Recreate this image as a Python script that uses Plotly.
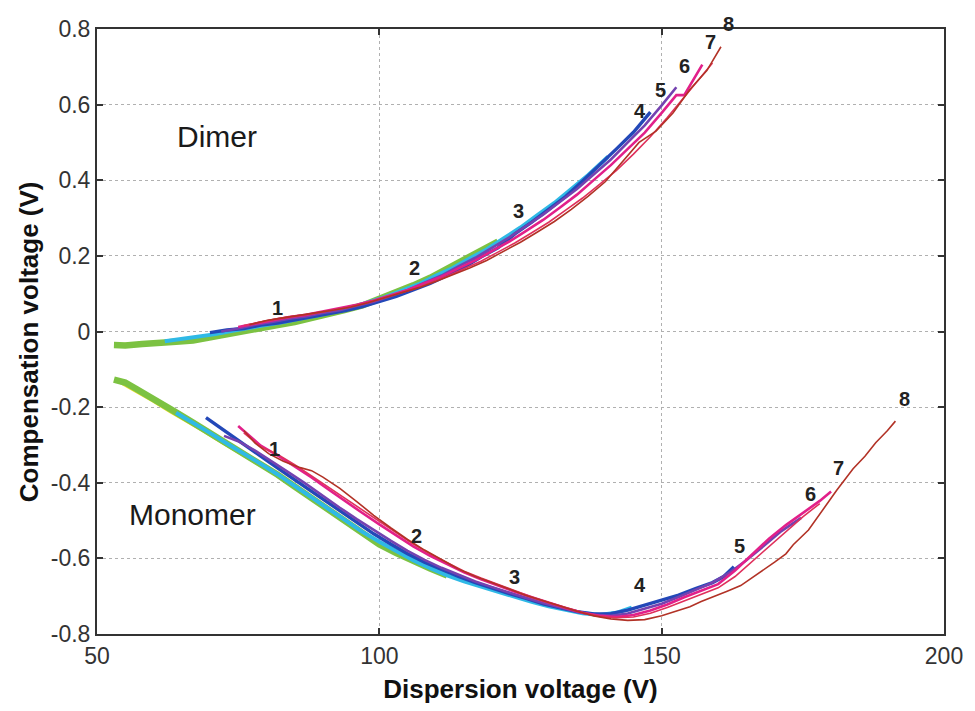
import plotly.graph_objects as go

# ---------------- data ----------------
series_names = ["1", "2", "3", "4", "5", "6", "7", "8"]
series_colors = ["#e8dc2a", "#7cc242", "#2fb9e6", "#2348b8", "#7442b0", "#e2208a", "#e0305c", "#b23226"]
series_widths = [4, 6.5, 4, 3.4, 2.6, 2.6, 1.6, 1.6]

# Dimer branch (x = dispersion voltage, y = compensation voltage)
dimer_x = [
    [54, 57, 60, 63, 66, 69, 72, 75, 78, 80],
    [53, 55, 58, 61, 64, 67, 70, 73, 76, 79, 82, 85, 88, 91, 94, 97, 100, 103, 106, 109, 112, 115, 118, 121],
    [62, 65, 68, 71, 74, 77, 80, 83, 86, 89, 92, 95, 98, 101, 104, 107, 110, 113, 116, 119, 122, 125, 128, 131, 134, 137, 140.5],
    [70, 73, 76, 79, 82, 85, 88, 91, 94, 97, 100, 103, 106, 109, 112, 115, 118, 121, 124, 127, 130, 133, 136, 139, 142, 145, 148],
    [72, 75, 78, 81, 84, 87, 90, 93, 96, 99, 102, 105, 108, 111, 114, 117, 120, 123, 126, 129, 132, 135, 138, 141, 144, 147, 150, 152.6],
    [75, 78, 81, 84, 87, 90, 93, 96, 99, 102, 105, 108, 111, 114, 117, 120, 123, 126, 129, 132, 135, 138, 141, 144, 147, 150, 152.6, 154, 157.2],
    [76, 79, 82, 85, 88, 91, 94, 97, 100, 103, 106, 109, 112, 115, 118, 121, 124, 127, 130, 133, 136, 139, 142, 145, 148, 151, 154, 157, 159],
    [77, 80, 83, 86, 89, 92, 95, 98, 101, 104, 107, 110, 113, 116, 119, 122, 125, 128, 131, 134, 137, 140, 143, 146, 149, 152, 155, 158, 160.5],
]
dimer_y = [
    [-0.036, -0.034, -0.031, -0.029, -0.024, -0.017, -0.009, -0.001, 0.007, 0.012],
    [-0.036, -0.037, -0.033, -0.032, -0.027, -0.024, -0.015, -0.008, 0.001, 0.008, 0.017, 0.025, 0.035, 0.044, 0.057, 0.069, 0.086, 0.102, 0.122, 0.142, 0.165, 0.188, 0.213, 0.238],
    [-0.026, -0.020, -0.014, -0.007, 0.002, 0.009, 0.018, 0.025, 0.034, 0.042, 0.053, 0.063, 0.077, 0.091, 0.108, 0.125, 0.147, 0.168, 0.193, 0.217, 0.246, 0.275, 0.308, 0.340, 0.377, 0.414, 0.462],
    [-0.003, 0.004, 0.008, 0.017, 0.022, 0.030, 0.037, 0.046, 0.055, 0.066, 0.080, 0.093, 0.110, 0.127, 0.148, 0.170, 0.197, 0.221, 0.258, 0.289, 0.323, 0.357, 0.398, 0.439, 0.483, 0.527, 0.580],
    [0.000, 0.008, 0.018, 0.025, 0.034, 0.040, 0.049, 0.056, 0.068, 0.079, 0.094, 0.109, 0.129, 0.148, 0.172, 0.195, 0.222, 0.249, 0.279, 0.309, 0.343, 0.377, 0.416, 0.455, 0.500, 0.545, 0.598, 0.646],
    [0.012, 0.021, 0.030, 0.038, 0.044, 0.053, 0.060, 0.071, 0.082, 0.096, 0.110, 0.128, 0.145, 0.167, 0.188, 0.213, 0.238, 0.266, 0.295, 0.328, 0.362, 0.401, 0.440, 0.483, 0.526, 0.578, 0.625, 0.625, 0.706],
    [0.016, 0.026, 0.034, 0.041, 0.047, 0.055, 0.062, 0.073, 0.085, 0.099, 0.112, 0.129, 0.146, 0.166, 0.186, 0.210, 0.234, 0.261, 0.289, 0.321, 0.353, 0.389, 0.426, 0.469, 0.515, 0.566, 0.620, 0.671, 0.710],
    [0.018, 0.029, 0.036, 0.044, 0.050, 0.057, 0.065, 0.076, 0.089, 0.102, 0.116, 0.132, 0.149, 0.168, 0.188, 0.211, 0.236, 0.263, 0.291, 0.323, 0.358, 0.396, 0.448, 0.500, 0.530, 0.578, 0.640, 0.690, 0.753],
]

# Monomer branch
monomer_x = [
    [54, 57, 60, 63, 66, 69, 72, 75, 78, 81, 84],
    [53, 55, 57, 59, 61, 64, 67, 70, 73, 76, 79, 82, 85, 88, 91, 94, 97, 100, 103, 106, 109, 112],
    [64, 67, 70, 73, 76, 79, 82, 85, 88, 91, 94, 97, 100, 103, 106, 109, 112, 115, 118, 121, 124, 127, 130, 133, 136, 139, 142, 144.7],
    [69.3, 72, 75, 78, 81, 84, 87, 90, 93, 96, 99, 102, 105, 108, 111, 114, 117, 120, 123, 126, 129, 132, 135, 138, 141, 144, 147, 150, 153, 156, 159, 161, 162.8],
    [72.5, 75, 78, 81, 84, 87, 90, 93, 96, 99, 102, 105, 108, 111, 114, 117, 120, 123, 126, 129, 132, 135, 138, 141, 144, 147, 150, 153, 156, 159, 162, 165, 168, 171, 174.7],
    [75, 77, 79, 82, 85, 88, 91, 94, 97, 100, 103, 106, 109, 112, 115, 118, 121, 124, 127, 130, 133, 136, 139, 142, 145, 148, 151, 154, 157, 160, 163, 166, 169, 172, 175, 178, 180],
    [76, 79, 82, 85, 88, 91, 94, 97, 100, 103, 106, 109, 112, 115, 118, 121, 124, 127, 130, 133, 136, 139, 142, 145, 148, 151, 154, 157, 160, 163, 166, 169, 172, 175, 178],
    [76, 78, 80.4, 83, 86, 88, 90, 93, 96, 99, 102, 105, 108, 111, 114, 117, 120, 123, 126, 129, 132, 135, 138, 141, 144, 147, 150, 152.9, 155, 157, 159, 161.6, 164, 166, 167.5, 170, 172, 173.3, 176, 179.1, 181, 183.9, 186, 187.9, 190, 191.4],
]
monomer_y = [
    [-0.132, -0.157, -0.183, -0.211, -0.236, -0.263, -0.291, -0.318, -0.344, -0.371, -0.398],
    [-0.127, -0.135, -0.152, -0.171, -0.190, -0.214, -0.241, -0.268, -0.297, -0.322, -0.350, -0.379, -0.410, -0.440, -0.473, -0.505, -0.534, -0.563, -0.586, -0.608, -0.627, -0.645],
    [-0.215, -0.240, -0.268, -0.296, -0.322, -0.350, -0.378, -0.408, -0.438, -0.470, -0.500, -0.530, -0.556, -0.582, -0.605, -0.626, -0.645, -0.661, -0.675, -0.688, -0.702, -0.715, -0.727, -0.737, -0.745, -0.750, -0.744, -0.730],
    [-0.228, -0.257, -0.288, -0.320, -0.351, -0.382, -0.413, -0.444, -0.475, -0.505, -0.535, -0.562, -0.588, -0.610, -0.630, -0.648, -0.664, -0.679, -0.693, -0.706, -0.720, -0.731, -0.741, -0.747, -0.746, -0.737, -0.724, -0.710, -0.697, -0.680, -0.664, -0.648, -0.622],
    [-0.276, -0.290, -0.315, -0.343, -0.373, -0.403, -0.435, -0.466, -0.496, -0.525, -0.553, -0.580, -0.604, -0.625, -0.644, -0.661, -0.676, -0.691, -0.705, -0.718, -0.730, -0.741, -0.749, -0.752, -0.746, -0.734, -0.720, -0.702, -0.684, -0.664, -0.638, -0.605, -0.568, -0.530, -0.493],
    [-0.250, -0.275, -0.302, -0.328, -0.356, -0.386, -0.418, -0.450, -0.480, -0.510, -0.540, -0.568, -0.593, -0.616, -0.637, -0.655, -0.672, -0.688, -0.703, -0.718, -0.731, -0.744, -0.752, -0.755, -0.750, -0.738, -0.722, -0.703, -0.686, -0.668, -0.632, -0.590, -0.548, -0.512, -0.480, -0.448, -0.423],
    [-0.268, -0.305, -0.325, -0.352, -0.382, -0.412, -0.444, -0.474, -0.503, -0.533, -0.562, -0.588, -0.612, -0.634, -0.652, -0.669, -0.686, -0.702, -0.717, -0.730, -0.743, -0.753, -0.757, -0.755, -0.745, -0.730, -0.712, -0.695, -0.678, -0.648, -0.608, -0.568, -0.528, -0.490, -0.455],
    [-0.262, -0.295, -0.323, -0.343, -0.360, -0.368, -0.385, -0.415, -0.450, -0.486, -0.519, -0.550, -0.578, -0.604, -0.628, -0.648, -0.665, -0.683, -0.698, -0.712, -0.727, -0.740, -0.752, -0.760, -0.764, -0.762, -0.752, -0.739, -0.728, -0.714, -0.703, -0.687, -0.672, -0.652, -0.635, -0.610, -0.588, -0.564, -0.525, -0.460, -0.420, -0.363, -0.330, -0.294, -0.262, -0.237],
]

# Number labels next to the curve ends
dimer_label_x = [81.9, 106.3, 124.7, 146.1, 149.8, 154.0, 158.6, 161.9]
dimer_label_y = [0.062, 0.169, 0.318, 0.583, 0.640, 0.703, 0.766, 0.813]
monomer_label_x = [81.4, 106.5, 123.9, 146.1, 163.7, 176.3, 181.4, 193.0]
monomer_label_y = [-0.310, -0.540, -0.648, -0.671, -0.567, -0.430, -0.362, -0.179]

x_range = [50, 200]
y_range = [-0.8, 0.8]
x_tickvals = [50, 100, 150, 200]
x_ticktext = ["50", "100", "150", "200"]
y_tickvals = [-0.8, -0.6, -0.4, -0.2, 0, 0.2, 0.4, 0.6, 0.8]
y_ticktext = ["-0.8", "-0.6", "-0.4", "-0.2", "0", "0.2", "0.4", "0.6", "0.8"]

# ---------------- figure ----------------
fig = go.Figure()
for i in range(len(series_names)):
    for xs, ys in ((monomer_x[i], monomer_y[i]), (dimer_x[i], dimer_y[i])):
        fig.add_trace(go.Scatter(
            x=xs, y=ys, mode="lines",
            line=dict(color=series_colors[i], width=series_widths[i]),
            name=series_names[i], showlegend=False,
        ))

FONT = "Liberation Sans, Arial, sans-serif"


def to_paper_y(v):
    return (v - y_range[0]) / (y_range[1] - y_range[0])


for i, n in enumerate(series_names):
    for lx, ly in ((dimer_label_x[i], dimer_label_y[i]), (monomer_label_x[i], monomer_label_y[i])):
        fig.add_annotation(x=lx, y=to_paper_y(ly), xref="x", yref="paper",
                           xanchor="center", yanchor="middle",
                           text="<b>%s</b>" % n, showarrow=False,
                           font=dict(family=FONT, size=20, color="#222"))

fig.add_annotation(x=71.2, y=0.515, text="Dimer", showarrow=False,
                   xanchor="center", yanchor="middle",
                   font=dict(family=FONT, size=30, color="#1a1a1a"))
fig.add_annotation(x=67.0, y=-0.485, text="Monomer", showarrow=False,
                   xanchor="center", yanchor="middle",
                   font=dict(family=FONT, size=30, color="#1a1a1a"))

# y-axis title (placed slightly below the axis centre, as in the reference)
fig.add_annotation(x=-0.081, y=0.483, xref="paper", yref="paper",
                   text="<b>Compensation voltage (V)</b>", textangle=-90,
                   showarrow=False, xanchor="center", yanchor="middle",
                   font=dict(family=FONT, size=26, color="#111"))

axis_common = dict(
    showline=True, linecolor="#333", linewidth=2, mirror="ticks",
    ticks="inside", ticklen=6, tickwidth=2, tickcolor="#333",
    showgrid=True, gridcolor="#b0b0b0", gridwidth=1, griddash="dot",
    zeroline=False,
    tickfont=dict(family=FONT, size=23, color="#333"),
)

fig.update_xaxes(range=x_range, tickvals=x_tickvals, ticktext=x_ticktext,
                 title=dict(text="<b>Dispersion voltage (V)</b>", standoff=12,
                            font=dict(family=FONT, size=26, color="#111")),
                 **axis_common)
fig.update_yaxes(range=y_range, tickvals=y_tickvals, ticktext=y_ticktext,
                 **axis_common)

fig.update_layout(
    width=975, height=711,
    margin=dict(l=97, r=23, t=29, b=71),
    paper_bgcolor="white", plot_bgcolor="white",
)

fig.write_html("out.html")
